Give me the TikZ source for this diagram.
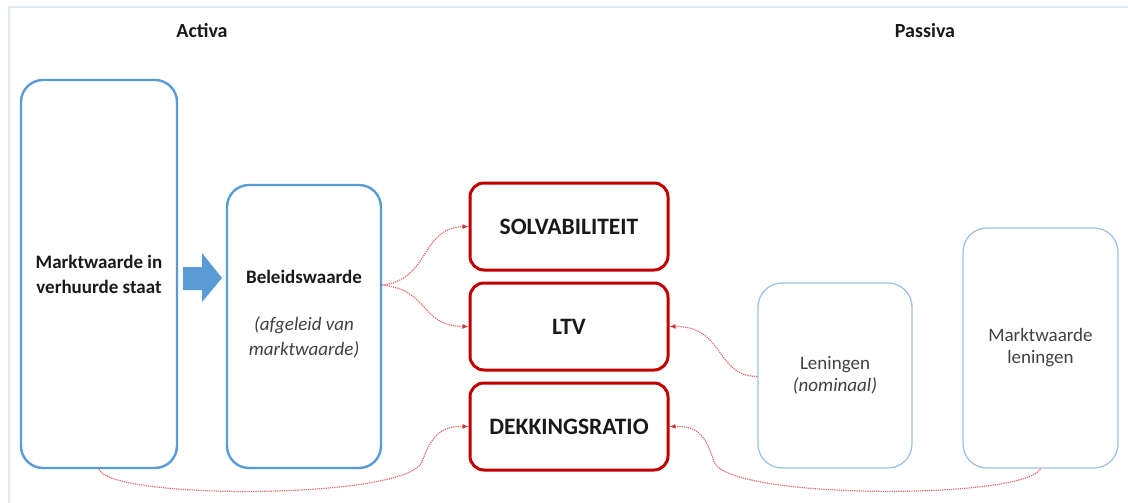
\documentclass[tikz,border=0pt]{standalone}
\usepackage{fontspec}
\setmainfont{Carlito}
\usetikzlibrary{arrows.meta}

\definecolor{assetblue}{HTML}{5B9BD5}
\definecolor{debtblue}{HTML}{9DC3E6}
\definecolor{framebl}{HTML}{DEEBF7}
\definecolor{ratiored}{HTML}{C00000}
\definecolor{linkred}{HTML}{E06666}
\definecolor{greytxt}{HTML}{404040}

\tikzset{
  asset/.style={draw=assetblue, line width=2.4pt, rounded corners=22pt, inner sep=0pt,
    align=center, text=black!90, font=\fontsize{19}{25}\selectfont\bfseries},
  debt/.style={draw=debtblue, line width=1.3pt, rounded corners=24pt, inner sep=0pt,
    align=center, text=greytxt, font=\fontsize{19}{22}\selectfont},
  ratio/.style={draw=ratiored, line width=3pt, rounded corners=14pt, inner sep=0pt,
    minimum width=198pt, minimum height=87pt, text=black!90,
    font=\fontsize{23.5}{27}\selectfont\bfseries},
  side/.style={text=black!90, font=\fontsize{20}{24}\selectfont\bfseries},
  link/.style={draw=linkred, line width=1.2pt, dash pattern=on 1.2pt off 1pt,
    -{Latex[length=6pt,width=5pt,fill=ratiored!80,color=ratiored!80]}}
}

\begin{document}
\begin{tikzpicture}[x=1pt, y=-1pt]
  \useasboundingbox (0,0) rectangle (1128,503);
  % frame
  \draw[framebl, line width=2pt] (9,503) -- (9,7) -- (1128,7);

  \node[side] (activa) at (202,31) {Activa};
  \node[side] (passiva) at (925,31) {Passiva};

  % activa
  \node[asset, minimum width=156pt, minimum height=388pt] (mv) at (99,274)
    {Marktwaarde in\\verhuurde staat};
  \node[asset, minimum width=154pt, minimum height=283pt] (bw) at (304,326.5) {};
  \node[align=center, text=black!90, font=\fontsize{19}{25}\selectfont] (bwtext) at (304,314)
    {\textbf{Beleidswaarde}\\[22pt]\textit{\color{greytxt}(afgeleid van}\\\textit{\color{greytxt}marktwaarde)}};
  \fill[assetblue] (183,267) -- (202,267) -- (202,253) -- (222,278)
    -- (202,302) -- (202,290) -- (183,290) -- cycle;

  % ratio's
  \node[ratio] (sol) at (569,226.5) {SOLVABILITEIT};
  \node[ratio] (ltv) at (569,326.5) {LTV};
  \node[ratio] (dek) at (569,426.5) {DEKKINGSRATIO};

  % passiva
  \node[debt, minimum width=154pt, minimum height=185pt] (len) at (835,375.5)
    {Leningen\\\textit{(nominaal)}};
  \node[debt, minimum width=155pt, minimum height=240pt] (mwl) at (1040.5,348)
    {Marktwaarde\\leningen};

  % verbanden
  \draw[link] ([yshift=41.5pt]bw.east) .. controls (430,280) and (420,228) .. (sol.west);
  \draw[link] ([yshift=41.5pt]bw.east) .. controls (430,290) and (420,326) .. (ltv.west);
  \draw[link] (mv.south) .. controls (110,500) and (405,500) .. (422,462)
    .. controls (432,432) and (445,426) .. (dek.west);
  \draw[link] ([yshift=-1pt]len.west) .. controls (715,376) and (725,326) .. (ltv.east);
  \draw[link] (mwl.south) .. controls (1025,500) and (730,500) .. (714,462)
    .. controls (705,432) and (695,426) .. (dek.east);
\end{tikzpicture}
\end{document}
